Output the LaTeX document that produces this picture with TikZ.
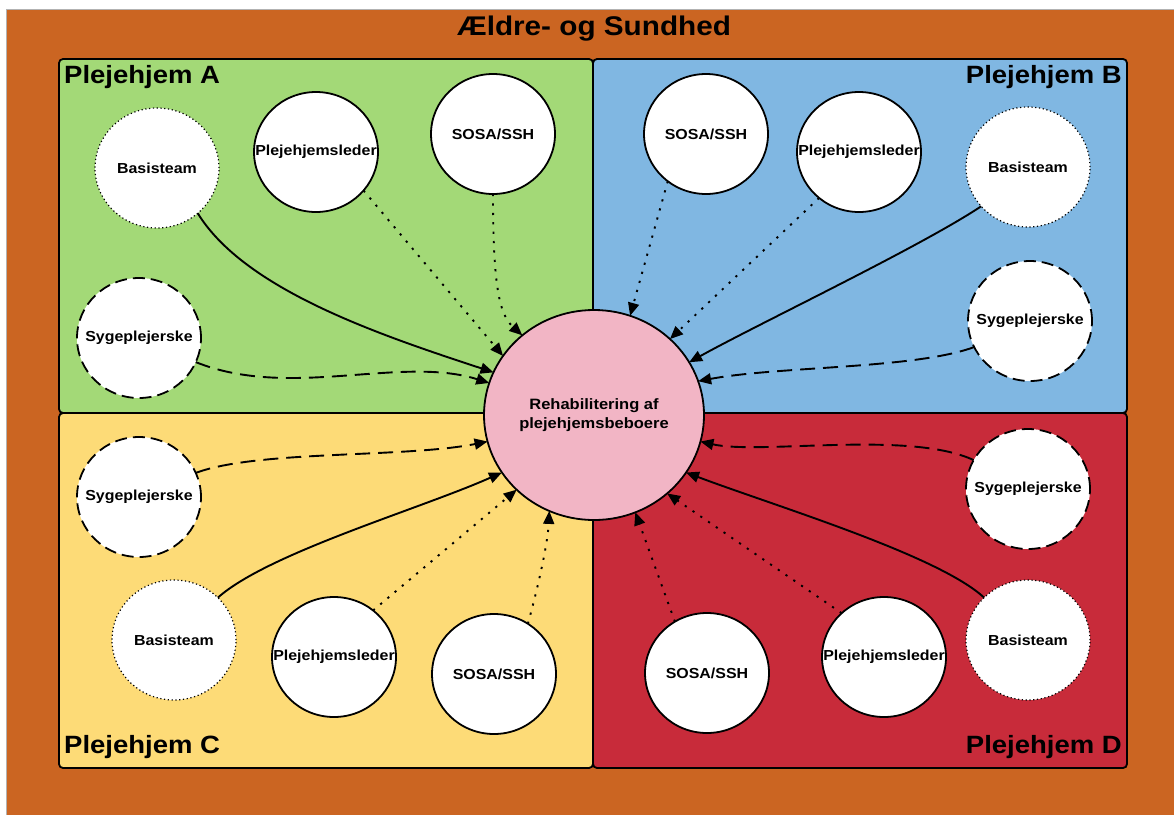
\documentclass[tikz,border=0pt]{standalone}
\usepackage{fontspec}
\setmainfont{Liberation Sans}[FakeStretch=1.1]
\usetikzlibrary{arrows.meta,shapes.geometric}

\definecolor{bgorange}{HTML}{CB6522}
\definecolor{pgreen}{HTML}{A3D977}
\definecolor{pblue}{HTML}{80B7E2}
\definecolor{pyellow}{HTML}{FDDB77}
\definecolor{pred}{HTML}{C82B3A}
\definecolor{hubpink}{HTML}{F2B5C5}

\tikzset{
  panel/.style={line width=1.8pt, rounded corners=4pt, draw=black},
  paneltitle/.style={font=\bfseries\fontsize{25}{29}\selectfont, inner sep=0pt},
  member/.style={ellipse, fill=white, minimum width=124pt, minimum height=120pt,
                 inner sep=0pt, outer sep=0pt,
                 label={[font=\bfseries\fontsize{14.5}{17}\selectfont]center:#1}},
  solidm/.style={member=#1, draw, line width=1.8pt},
  dotm/.style={member=#1, draw, line width=1.2pt, dash pattern=on 1.2pt off 2.6pt},
  dashm/.style={member=#1, draw, line width=1.8pt, dash pattern=on 12pt off 6pt},
  hub/.style={ellipse, fill=hubpink, draw, line width=1.8pt, minimum width=220pt,
              minimum height=210pt, inner sep=0pt, outer sep=0pt, align=center,
              font=\bfseries\fontsize{15}{19}\selectfont},
  link/.style={line width=1.9pt, -{Triangle[length=13pt,width=11pt]}},
  dotlink/.style={link, dash pattern=on 2.2pt off 7.2pt},
  dashlink/.style={link, dash pattern=on 15pt off 8pt},
}

\begin{document}
\begin{tikzpicture}[x=1pt,y=-1pt]
\useasboundingbox (0,0) rectangle (1174,814);
\fill[white] (0,0) rectangle (1174,814);
\draw[fill=bgorange, draw=gray!60, line width=0.8pt] (6,9) rectangle (1180,820);

\node[font=\bfseries\fontsize{27}{32}\selectfont, anchor=base, inner sep=0pt] (title) at (594,35) {Ældre- og Sundhed};

% the four nursing homes
\draw[panel, fill=pgreen]  (59,59)   rectangle (593,413);
\draw[panel, fill=pblue]   (593,59)  rectangle (1127,413);
\draw[panel, fill=pyellow] (59,413)  rectangle (593,768);
\draw[panel, fill=pred]    (593,413) rectangle (1127,768);

\node[paneltitle, anchor=base west] (tA) at (64,83)   {Plejehjem A};
\node[paneltitle, anchor=base east] (tB) at (1122,83) {Plejehjem B};
\node[paneltitle, anchor=base west] (tC) at (64,753)  {Plejehjem C};
\node[paneltitle, anchor=base east] (tD) at (1122,753){Plejehjem D};

% shared goal in the middle
\node[hub] (c) at (594,415) {Rehabilitering af\\plejehjemsbeboere};

% Plejehjem A
\node[dotm=Basisteam]         (basA) at (157,168) {};
\node[solidm=Plejehjemsleder] (plA)  at (316,152) {};
\node[solidm=SOSA/SSH]        (soA)  at (493,134) {};
\node[dashm=Sygeplejerske]    (syA)  at (139,338) {};
% Plejehjem B
\node[solidm=SOSA/SSH]        (soB)  at (706,134) {};
\node[solidm=Plejehjemsleder] (plB)  at (859,152) {};
\node[dotm=Basisteam]         (basB) at (1028,167) {};
\node[dashm=Sygeplejerske]    (syB)  at (1030,321) {};
% Plejehjem C
\node[dashm=Sygeplejerske]    (syC)  at (139,497) {};
\node[dotm=Basisteam]         (basC) at (174,640) {};
\node[solidm=Plejehjemsleder] (plC)  at (334,657) {};
\node[solidm=SOSA/SSH]        (soC)  at (494,674) {};
% Plejehjem D
\node[dashm=Sygeplejerske]    (syD)  at (1028,489) {};
\node[dotm=Basisteam]         (basD) at (1028,640) {};
\node[solidm=Plejehjemsleder] (plD)  at (884,657) {};
\node[solidm=SOSA/SSH]        (soD)  at (707,673) {};

% connectors A
\draw[link]     (basA.-48) .. controls (245,290) and (380,335) .. (c.157);
\draw[dotlink]  (plA.-39) -- (c.147);
\draw[dotlink]  (soA.-90) .. controls (493,290) and (500,315) .. (c.132);
\draw[dashlink] (syA.-23) .. controls (290,400) and (400,355) .. (c.163);
% connectors B
\draw[dotlink]  (soB.-129) -- (c.70);
\draw[dotlink]  (plB.-131) -- (c.45);
\draw[link]     (basB.-140) .. controls (920,247) and (758,324) .. (c.29);
\draw[dashlink] (syB.-155) .. controls (915,369) and (780,366) .. (c.18);
% connectors C
\draw[dashlink] (syC.23) .. controls (257,450) and (405,458) .. (c.194);
\draw[link]     (basC.44) .. controls (268,553) and (420,509) .. (c.212);
\draw[dotlink]  (plC.50) -- (c.224);
\draw[dotlink]  (soC.56) .. controls (540,580) and (548,540) .. (c.245);
% connectors D
\draw[dashlink] (syD.152) .. controls (910,430) and (760,455) .. (c.-14);
\draw[link]     (basD.136) .. controls (938,555) and (775,506) .. (c.-32);
\draw[dotlink]  (plD.134) -- (c.-47);
\draw[dotlink]  (soD.122) -- (c.-67);
\end{tikzpicture}
\end{document}
